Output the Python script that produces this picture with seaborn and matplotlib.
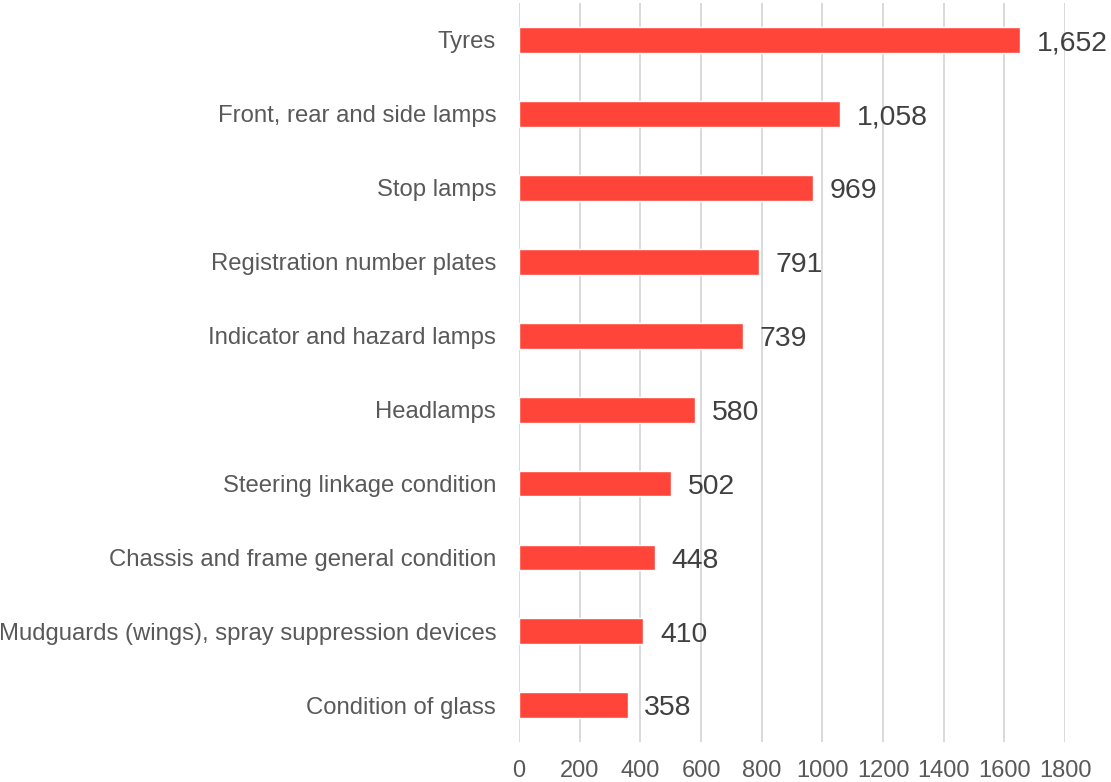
import matplotlib
matplotlib.use("Agg")
import matplotlib.pyplot as plt
import seaborn as sns
import pandas as pd

categories = [
    "Tyres",
    "Front, rear and side lamps",
    "Stop lamps",
    "Registration number plates",
    "Indicator and hazard lamps",
    "Headlamps",
    "Steering linkage condition",
    "Chassis and frame general condition",
    "Mudguards (wings), spray suppression devices",
    "Condition of glass",
]
values = [1652, 1058, 969, 791, 739, 580, 502, 448, 410, 358]
x_ticks = [0, 200, 400, 600, 800, 1000, 1200, 1400, 1600, 1800]

sns.set_theme(style="white")
plt.rcParams["font.family"] = ["Liberation Sans", "DejaVu Sans"]

df = pd.DataFrame({"category": categories, "value": values})

fig = plt.figure(figsize=(11.11, 7.82), dpi=100)
ax = fig.add_axes([0.4672, 0.0508, 0.4914, 0.9454])

sns.barplot(data=df, y="category", x="value", orient="h", color="#FF453A",
            saturation=1, width=0.35, ax=ax, zorder=3)

ax.set_xlim(0, 1800)
ax.set_ylim(len(categories) - 0.5, -0.5)
ax.set_xticks(x_ticks)
ax.set_xticklabels([str(t) for t in x_ticks])
ax.grid(axis="x", color="#D9D9D9", linewidth=1.4, zorder=0)
ax.grid(axis="y", visible=False)
for s in ax.spines.values():
    s.set_visible(False)

ax.tick_params(axis="x", length=0, pad=13, labelsize=17, labelcolor="#595959")
ax.tick_params(axis="y", length=0, pad=16.5, labelsize=17.2, labelcolor="#595959")
ax.set_xlabel("")
ax.set_ylabel("")

value_size = 20.4
for i, v in enumerate(values):
    ax.annotate(f"{v:,}", xy=(v, i),
                xytext=(12, -0.716 * value_size / 2), textcoords="offset points",
                va="baseline", ha="left", fontsize=value_size, color="#404040",
                annotation_clip=False)

fig.savefig("out.png", dpi=100)
